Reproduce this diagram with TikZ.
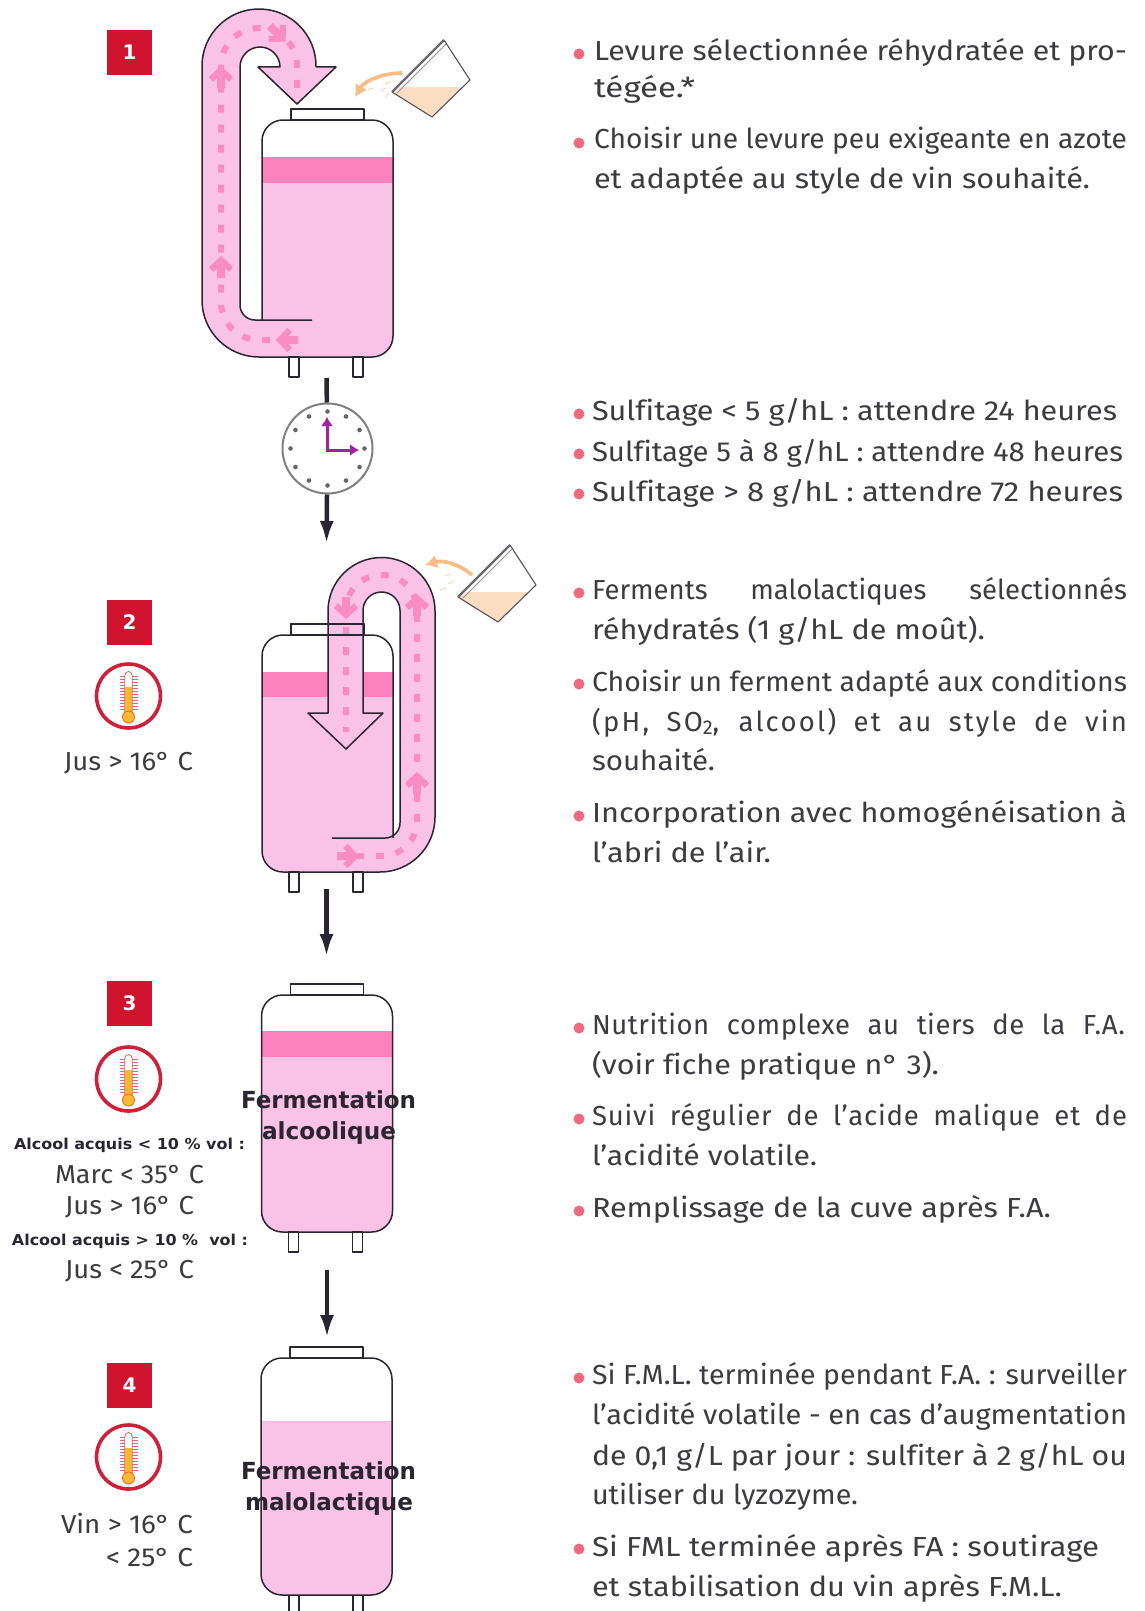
\documentclass[tikz,border=0pt]{standalone}
\usepackage{fontspec}
\usepackage{graphicx}
\usetikzlibrary{arrows.meta}
\setmainfont{Fira Sans}[Ligatures=NoCommon]
\newfontfamily\slabf{DejaVu Sans}
\definecolor{pinkA}{HTML}{FBC2E8}
\definecolor{pinkB}{HTML}{FB82BE}
\definecolor{pinkC}{HTML}{F98CC4}
\definecolor{inkc}{HTML}{2A2530}
\definecolor{txtc}{HTML}{3C3B42}
\definecolor{redc}{HTML}{D0142F}
\definecolor{redo}{HTML}{CE2038}
\definecolor{bulc}{HTML}{EE6A7E}
\definecolor{pourc}{HTML}{FBDDC2}
\definecolor{orgc}{HTML}{F9BC82}
\definecolor{purc}{HTML}{A31FA6}
\definecolor{yelc}{HTML}{F9B934}
\newcounter{tl}
\tikzset{
  x=1pt,y=-1pt,
  tankline/.style={draw=inkc,line width=1.5pt,line join=round},
  dashpipe/.style={draw=pinkC,line width=6pt,dash pattern=on 8pt off 12pt},
  badge/.style={fill=redc,text=white,minimum size=45pt,inner sep=0pt,font=\slabf\bfseries\fontsize{20}{20}\selectfont},
  blk/.style={draw=inkc,line width=4.5pt,-{Latex[length=23pt,width=14pt]}},
  txtn/.style={anchor=base west,inner sep=0pt,outer sep=0pt,text=txtc,font=\fontsize{27.5}{30}\selectfont},
  smalln/.style={txtn,font=\fontsize{26}{30}\selectfont},
  boldn/.style={txtn,text=inkc,font=\slabf\bfseries\fontsize{15}{18}\selectfont},
  bign/.style={txtn,text=inkc,font=\slabf\bfseries\fontsize{23.5}{26}\selectfont}
}
% text line fitted horizontally by scaling
\newcommand{\tln}[5][txtn]{\stepcounter{tl}\node[#1] (t\thetl) at (#2,#3) {\resizebox{#4pt}{\height}{#5}};}
% text line justified by its word spaces
\newcommand{\jln}[4]{\stepcounter{tl}\node[txtn] (t\thetl) at (#1,#2) {\makebox[#3pt][s]{#4}};}
\newcommand{\bul}[1]{\fill[bulc] (579,#1) circle[radius=5.5pt];}
\newcommand{\tankfill}[4]{%
  \begin{scope}[shift={(#1,#2)}]
    \fill[white,rounded corners=21pt] (0,0) rectangle (131,237);
    \begin{scope}
      \clip[rounded corners=21pt] (0,0) rectangle (131,237);
      \fill[pinkA] (0,#3) rectangle (131,237);
      \fill[pinkB] (0,#3) rectangle (131,#4);
    \end{scope}
  \end{scope}}
\newcommand{\tanklid}[2]{%
  \begin{scope}[shift={(#1,#2)}]
    \draw[tankline] (29,-11) rectangle (102,0);
  \end{scope}}
\newcommand{\tankfeet}[2]{%
  \begin{scope}[shift={(#1,#2)}]
    \draw[tankline] (27,237) rectangle (37,257);
    \draw[tankline] (91,237) rectangle (101,257);
  \end{scope}}
\newcommand{\pinkarrow}[3]{%
  \begin{scope}[shift={(#1,#2)},rotate=#3]
    \fill[pinkC] (12,0) -- (1,-12) -- (-4,-8) -- (0,-4) -- (-10,-4) -- (-10,4) -- (0,4) -- (-4,8) -- (1,12) -- cycle;
  \end{scope}}
\newcommand{\thermo}[2]{%
  \begin{scope}[shift={(#1,#2)}]
    \draw[redo,line width=3.6pt] (0,0) circle[radius=32pt];
    \foreach \t in {-20,-17,...,13} {\draw[draw=redo!70,line width=.9pt] (-9,\t) -- (9,\t);}
    \fill[white] (-3.8,-20) .. controls (-3.8,-26) and (3.8,-26) .. (3.8,-20) -- (3.8,18) -- (-3.8,18) -- cycle;
    \fill[yelc] (-3.6,-9) rectangle (3.6,18);
    \fill[yelc] (0,21) circle[radius=6pt];
    \draw[draw=redo!60!orgc,line width=.8pt] (-3.8,16) -- (-3.8,-20) .. controls (-3.8,-26) and (3.8,-26) .. (3.8,-20) -- (3.8,16);
    \draw[draw=redo!30!orange,line width=.8pt] (0,21) circle[radius=6pt];
  \end{scope}}
\newcommand{\pourcup}[2]{%
  \begin{scope}[shift={(#1,#2)}]
    \fill[white] (444,40) -- (470,80) -- (432,117) -- (392,92) -- cycle;
    \fill[pourc] (398,87) -- (463,87) -- (432,117) -- (392,92) -- cycle;
    \draw[draw=inkc!80,line width=1.1pt,line join=round] (444,40) -- (470,80) -- (432,117) -- (392,92);
    \draw[draw=inkc!70,line width=2.2pt] (392,92) -- (444,40);
    \draw[draw=white,line width=.6pt] (396,91) -- (445,43);
    \draw[draw=inkc!50,line width=.8pt] (397,93) -- (446,44);
  \end{scope}}
\begin{document}
\begin{tikzpicture}
\useasboundingbox (0,0) rectangle (1145,1611);
\fill[white] (0,0) rectangle (1145,1611);

% ---------- tank 1
\tankfill{262}{120}{37}{63}
\draw[fill=white,tankline] (291,109) rectangle (364,120);
\fill[pinkA] (202,300) -- (202,66) .. controls (202,34.5) and (227.5,9) .. (259,9) .. controls (290.5,9) and (316,34.5) .. (316,66) -- (316,67) -- (336,67) -- (297,104) -- (258,67) -- (280,67) .. controls (280,56) and (271,47) .. (260,47) .. controls (249,47) and (240,56) .. (240,67) -- (240,305) .. controls (240,313.3) and (246.7,320) .. (255,320) -- (312,320) -- (312,357) -- (259,357) .. controls (227.5,357) and (202,331.5) .. (202,300) -- cycle;
\draw[dashpipe,rounded corners=38pt] (270,340) -- (221,340) -- (221,28) -- (297,28) -- (297,93);
\pinkarrow{221}{78}{90}
\pinkarrow{221}{268}{90}
\pinkarrow{277}{33}{-45}
\pinkarrow{288}{340}{180}
\draw[tankline] (300,357) -- (259,357) .. controls (227.5,357) and (202,331.5) .. (202,300) -- (202,66) .. controls (202,34.5) and (227.5,9) .. (259,9) .. controls (290.5,9) and (316,34.5) .. (316,66) -- (316,67) -- (336,67) -- (297,104) -- (258,67) -- (280,67) .. controls (280,56) and (271,47) .. (260,47) .. controls (249,47) and (240,56) .. (240,67) -- (240,305) .. controls (240,313.3) and (246.7,320) .. (255,320) -- (312,320);
\draw[tankline,rounded corners=21pt] (262,320) -- (262,120) -- (393,120) -- (393,357) -- (300,357);
\tankfeet{262}{120}
\pourcup{0}{0}
\draw[draw=orgc,line width=3.6pt,-{Latex[length=12pt,width=14pt]}] (402,73) .. controls (385,73) and (365,80) .. (355,97);
\foreach \a/\b/\c/\d in {385/84/391/82,381/91/386/88,386/97/389/93,368/90/373/88} {\draw[draw=orgc!60,line width=1pt] (\a,\b) -- (\c,\d);}

% ---------- clock
\coordinate (a1s) at (326.5,378);
\coordinate (a1e) at (326.5,544);
\node[circle,draw=black!50,line width=2pt,minimum size=90pt,inner sep=0pt,fill=white] (clock) at (327.5,448.5) {};
\draw[draw=inkc,line width=4.5pt] (a1s) -- (clock);
\draw[blk] (clock) -- (a1e);
\foreach \a in {0,30,...,330} {\fill[black!60] ({327.5+37*cos(\a)},{448.5+37*sin(\a)}) circle[radius=2.3pt];}
\draw[draw=purc,line width=3pt,-{Latex[length=9pt,width=12pt]}] (327,450) -- (327,417);
\draw[draw=purc,line width=3pt,-{Latex[length=9pt,width=12pt]}] (325.5,450) -- (359,450);

% ---------- tank 2
\tankfill{262}{635}{37}{62}
\draw[fill=white,tankline] (291,624) rectangle (364,635);
\fill[pinkA] (363,713) -- (383,713) -- (346,749) -- (308,713) -- (328,713) -- (328,611) .. controls (328,581.5) and (352,557.5) .. (381.5,557.5) .. controls (411,557.5) and (435,581.5) .. (435,611) -- (435,817) .. controls (435,847.4) and (410.4,872) .. (380,872) -- (332,872) -- (332,838) -- (385,838) .. controls (393.3,838) and (400,831.3) .. (400,823) -- (400,610.5) .. controls (400,600.3) and (391.7,592) .. (381.5,592) .. controls (371.3,592) and (363,600.3) .. (363,610.5) -- cycle;
\draw[dashpipe,rounded corners=35pt] (356,856) -- (417,856) -- (417,575) -- (346,575) -- (346,732);
\pinkarrow{347}{856}{0}
\pinkarrow{417}{784}{90}
\pinkarrow{417}{606}{90}
\pinkarrow{346}{607}{-90}
\draw[tankline] (291,624) rectangle (364,635);
\draw[tankline,rounded corners=21pt] (393,838) -- (393,635) -- (262,635) -- (262,872) -- (300,872);
\draw[tankline] (300,872) -- (380,872) .. controls (410.4,872) and (435,847.4) .. (435,817) -- (435,611) .. controls (435,581.5) and (411,557.5) .. (381.5,557.5) .. controls (352,557.5) and (328,581.5) .. (328,611) -- (328,713) -- (308,713) -- (346,749) -- (383,713) -- (363,713) -- (363,610.5) .. controls (363,600.3) and (371.3,592) .. (381.5,592) .. controls (391.7,592) and (400,600.3) .. (400,610.5) -- (400,823) .. controls (400,831.3) and (393.3,838) .. (385,838) -- (332,838);
\tankfeet{262}{635}
\pourcup{66}{505}
\draw[draw=orgc,line width=3.6pt,-{Latex[length=12pt,width=14pt]}] (472,575) .. controls (458,563) and (442,560) .. (425,565);
\foreach \a/\b/\c/\d in {445/576/451/574,448/584/454/581,440/590/446/588} {\draw[draw=orgc!60,line width=1pt] (\a,\b) -- (\c,\d);}

\coordinate (a2s) at (326.5,889);
\coordinate (a2e) at (326.5,957);
\draw[blk] (a2s) -- (a2e);

% ---------- tank 3
\tankfill{261.5}{995}{36}{62}
\tanklid{261.5}{995}
\draw[tankline,rounded corners=21pt] (261.5,995) rectangle (392.5,1232);
\tankfeet{261.5}{995}
\coordinate (a3s) at (327,1270);
\coordinate (a3e) at (327,1338);
\draw[blk] (a3s) -- (a3e);

% ---------- tank 4
\tankfill{261}{1358}{63}{63}
\tanklid{261}{1358}
\draw[tankline,rounded corners=21pt] (261,1358) rectangle (392,1595);
\draw[tankline] (289,1595) -- (289,1612) (299,1595) -- (299,1612) (353,1595) -- (353,1612) (363,1595) -- (363,1612);

% ---------- tank labels
\tln[bign]{241}{1108}{175}{Fermentation}
\tln[bign]{262}{1139}{134}{alcoolique}
\tln[bign]{241}{1479}{175}{Fermentation}
\tln[bign]{245}{1510}{168}{malolactique}

% ---------- badges and thermometers
\node[badge] (b1) at (129.5,52.5) {1};
\node[badge] (b2) at (129.5,622.5) {2};
\node[badge] (b3) at (129.5,1003.5) {3};
\node[badge] (b4) at (129.5,1385.5) {4};
\thermo{128.5}{696}
\thermo{128.5}{1079}
\thermo{128.5}{1457}

% ---------- left texts
\tln[smalln]{64}{770}{129}{Jus > 16°\ C}
\tln[boldn]{14}{1149}{231}{Alcool acquis < 10 \% vol :}
\tln[smalln]{55}{1183}{149}{Marc < 35°\ C}
\tln[smalln]{65}{1214}{129}{Jus > 16°\ C}
\tln[boldn]{12}{1245}{236}{Alcool acquis > 10 \%\ \ vol :}
\tln[smalln]{65}{1278}{129}{Jus < 25°\ C}
\tln[smalln]{61}{1533}{132}{Vin > 16°\ C}
\tln[smalln]{106}{1566}{87}{< 25°\ C}

% ---------- right texts
\bul{54}
\tln{594}{60}{533}{Levure sélectionnée réhydratée et pro-}
\tln{594}{97}{101}{tégée.*}
\bul{143}
\tln{594}{148}{533}{Choisir une levure peu exigeante en azote}
\tln{594}{188}{496}{et adaptée au style de vin souhaité.}

\bul{414}
\tln{592}{420}{525}{Sulfitage < 5 g/hL : attendre 24 heures}
\bul{454}
\tln{592}{461}{531}{Sulfitage 5 à 8 g/hL : attendre 48 heures}
\bul{494}
\tln{592}{501}{531}{Sulfitage > 8 g/hL : attendre 72 heures}

\bul{593}
\jln{592}{599}{535}{Ferments malolactiques sélectionnés}
\tln{592}{639}{393}{réhydratés (1 g/hL de moût).}
\bul{684}
\tln{592}{691}{535}{Choisir un ferment adapté aux conditions}
\jln{592}{731}{535}{\addfontfeature{LetterSpace=8}(pH, SO\raisebox{-3pt}{\fontsize{20}{20}\selectfont 2}, alcool) et au style de vin}
\tln{592}{770}{123}{souhaité.}
\bul{816}
\tln{592}{822}{535}{Incorporation avec homogénéisation à}
\tln{592}{862}{179}{l’abri de l’air.}

\bul{1028}
\jln{592}{1034}{533}{\addfontfeature{LetterSpace=2}Nutrition complexe au tiers de la F.A.}
\tln{592}{1074}{347}{(voir fiche pratique n° 3).}
\bul{1119}
\jln{592}{1125}{535}{\addfontfeature{LetterSpace=3}Suivi régulier de l’acide malique et de}
\tln{592}{1165}{225}{l’acidité volatile.}
\bul{1211}
\tln{592}{1217}{459}{Remplissage de la cuve après F.A.}

\bul{1378}
\tln{592}{1384}{535}{Si F.M.L. terminée pendant F.A. : surveiller}
\tln{592}{1424}{535}{l’acidité volatile - en cas d’augmentation}
\tln{592}{1465}{535}{de 0,1 g/L par jour : sulfiter à 2 g/hL ou}
\tln{592}{1504}{266}{utiliser du lyzozyme.}
\bul{1549}
\tln{592}{1556}{507}{Si FML terminée après FA : soutirage}
\tln{592}{1596}{470}{et stabilisation du vin après F.M.L.}
\end{tikzpicture}
\end{document}
